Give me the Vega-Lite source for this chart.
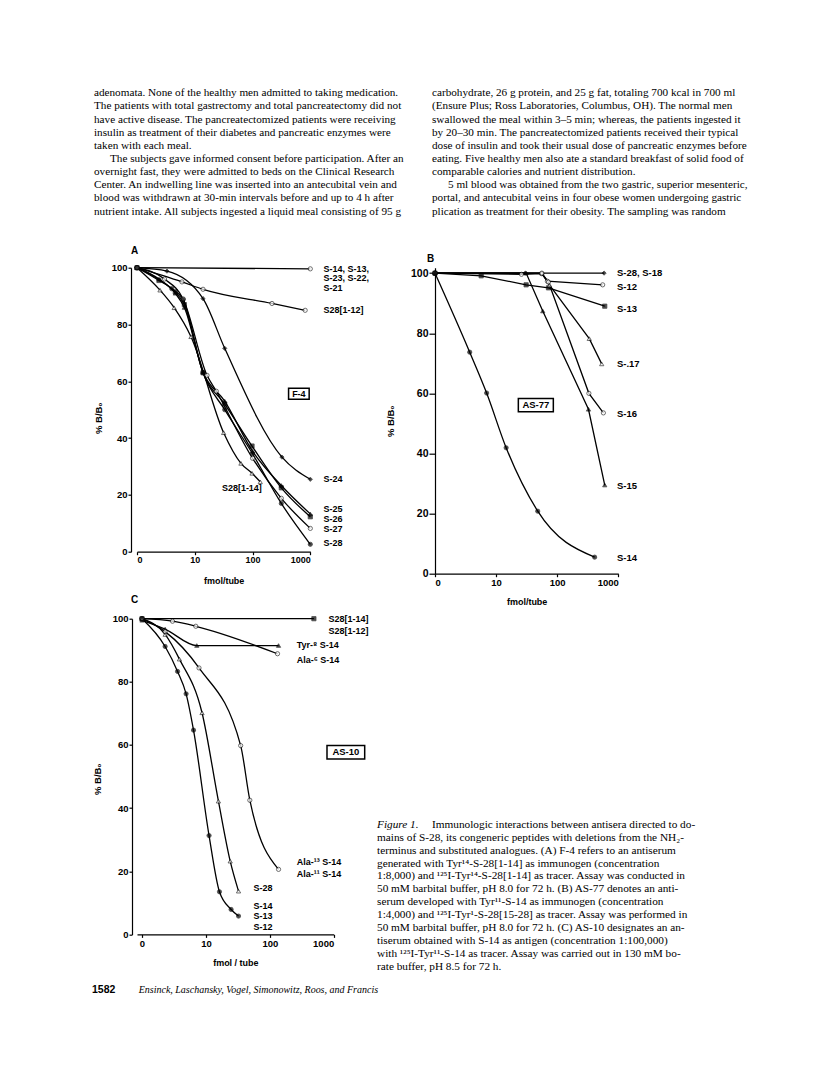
{
  "$schema": "https://vega.github.io/schema/vega-lite/v6.json",
  "padding": {"left": 92, "top": 86.7, "right": 10, "bottom": 10},
  "background": "white",
  "config": {
    "view": {"stroke": null},
    "font": "Liberation Sans",
    "axis": {"grid": false, "domainColor": "black", "tickColor": "black", "labelColor": "black", "titleColor": "black", "labelFont": "Liberation Sans", "labelFontWeight": "bold", "titleFont": "Liberation Sans", "titleFontWeight": "bold", "tickSize": 3, "labelPadding": 1, "domainWidth": 1.2, "tickWidth": 1.2},
    "title": {"font": "Liberation Sans", "fontWeight": "bold", "fontSize": 10, "anchor": "start", "frame": "group", "color": "black"},
    "text": {"color": "black"}
  },
  "datasets": {
    "bodyL": [
      {"n": 1, "p": 0, "t": "adenomata. None of the healthy men admitted to taking medication."},
      {"n": 2, "p": 0, "t": "The patients with total gastrectomy and total pancreatectomy did not"},
      {"n": 3, "p": 0, "t": "have active disease. The pancreatectomized patients were receiving"},
      {"n": 4, "p": 0, "t": "insulin as treatment of their diabetes and pancreatic enzymes were"},
      {"n": 5, "p": 0, "t": "taken with each meal."},
      {"n": 6, "p": 1, "t": "The subjects gave informed consent before participation. After an"},
      {"n": 7, "p": 0, "t": "overnight fast, they were admitted to beds on the Clinical Research"},
      {"n": 8, "p": 0, "t": "Center. An indwelling line was inserted into an antecubital vein and"},
      {"n": 9, "p": 0, "t": "blood was withdrawn at 30-min intervals before and up to 4 h after"},
      {"n": 10, "p": 0, "t": "nutrient intake. All subjects ingested a liquid meal consisting of 95 g"}
    ],
    "bodyR": [
      {"n": 1, "p": 0, "t": "carbohydrate, 26 g protein, and 25 g fat, totaling 700 kcal in 700 ml"},
      {"n": 2, "p": 0, "t": "(Ensure Plus; Ross Laboratories, Columbus, OH). The normal men"},
      {"n": 3, "p": 0, "t": "swallowed the meal within 3–5 min; whereas, the patients ingested it"},
      {"n": 4, "p": 0, "t": "by 20–30 min. The pancreatectomized patients received their typical"},
      {"n": 5, "p": 0, "t": "dose of insulin and took their usual dose of pancreatic enzymes before"},
      {"n": 6, "p": 0, "t": "eating. Five healthy men also ate a standard breakfast of solid food of"},
      {"n": 7, "p": 0, "t": "comparable calories and nutrient distribution."},
      {"n": 8, "p": 1, "t": "5 ml blood was obtained from the two gastric, superior mesenteric,"},
      {"n": 9, "p": 0, "t": "portal, and antecubital veins in four obese women undergoing gastric"},
      {"n": 10, "p": 0, "t": "plication as treatment for their obesity. The sampling was random"}
    ],
    "caption": [
      {"n": 1, "st": "i", "t": "Figure 1."},
      {"n": 1, "st": "r", "t": "Immunologic interactions between antisera directed to do-"},
      {"n": 2, "st": "n", "t": "mains of S-28, its congeneric peptides with deletions from the NH₂-"},
      {"n": 3, "st": "n", "t": "terminus and substituted analogues. (A) F-4 refers to an antiserum"},
      {"n": 4, "st": "n", "t": "generated with Tyr¹⁴-S-28[1-14] as immunogen (concentration"},
      {"n": 5, "st": "n", "t": "1:8,000) and ¹²⁵I-Tyr¹⁴-S-28[1-14] as tracer. Assay was conducted in"},
      {"n": 6, "st": "n", "t": "50 mM barbital buffer, pH 8.0 for 72 h. (B) AS-77 denotes an anti-"},
      {"n": 7, "st": "n", "t": "serum developed with Tyr¹¹-S-14 as immunogen (concentration"},
      {"n": 8, "st": "n", "t": "1:4,000) and ¹²⁵I-Tyr¹-S-28[15-28] as tracer. Assay was performed in"},
      {"n": 9, "st": "n", "t": "50 mM barbital buffer, pH 8.0 for 72 h. (C) AS-10 designates an an-"},
      {"n": 10, "st": "n", "t": "tiserum obtained with S-14 as antigen (concentration 1:100,000)"},
      {"n": 11, "st": "n", "t": "with ¹²⁵I-Tyr¹¹-S-14 as tracer. Assay was carried out in 130 mM bo-"},
      {"n": 12, "st": "n", "t": "rate buffer, pH 8.5 for 72 h."}
    ],
    "footer": [
      {"st": "num", "t": "1582"},
      {"st": "auth", "t": "Ensinck, Laschansky, Vogel, Simonowitz, Roos, and Francis"}
    ],
    "A": [
      {"s": "S-14", "x": 1, "y": 100, "m": "circle", "f": "open"},
      {"s": "S-14", "x": 1000, "y": 99.6, "m": "circle", "f": "open"},
      {"s": "S28[1-12]", "x": 1, "y": 100, "m": "circle", "f": "open"},
      {"s": "S28[1-12]", "x": 6, "y": 95, "m": "circle", "f": "open"},
      {"s": "S28[1-12]", "x": 13.9, "y": 92.4, "m": "circle", "f": "open"},
      {"s": "S28[1-12]", "x": 217, "y": 87.4, "m": "circle", "f": "open"},
      {"s": "S28[1-12]", "x": 815, "y": 85, "m": "circle", "f": "open"},
      {"s": "S-24", "x": 1, "y": 100, "m": "diamond", "f": "filled"},
      {"s": "S-24", "x": 3.3, "y": 98.8, "m": "diamond", "f": "filled"},
      {"s": "S-24", "x": 13.9, "y": 89.1, "m": "diamond", "f": "filled"},
      {"s": "S-24", "x": 33, "y": 71.6, "m": "diamond", "f": "filled"},
      {"s": "S-24", "x": 323, "y": 33.3, "m": "diamond", "f": "filled"},
      {"s": "S-24", "x": 1000, "y": 25.5, "m": "diamond", "f": "filled"},
      {"s": "S28[1-14]", "x": 1, "y": 100, "m": "triangle", "f": "open"},
      {"s": "S28[1-14]", "x": 2.5, "y": 92.1, "m": "triangle", "f": "open"},
      {"s": "S28[1-14]", "x": 4.4, "y": 85.9, "m": "triangle", "f": "open"},
      {"s": "S28[1-14]", "x": 8.6, "y": 75.7, "m": "triangle", "f": "open"},
      {"s": "S28[1-14]", "x": 31.6, "y": 41.9, "m": "triangle", "f": "open"},
      {"s": "S28[1-14]", "x": 63, "y": 31.1, "m": "triangle", "f": "open"},
      {"s": "S28[1-14]", "x": 98, "y": 27.6, "m": "triangle", "f": "open"},
      {"s": "S28[1-14]", "x": 136, "y": 24.6, "m": "triangle", "f": "open"},
      {"s": "S-25", "x": 1, "y": 100, "m": "triangle", "f": "filled"},
      {"s": "S-25", "x": 2.4, "y": 96, "m": "triangle", "f": "filled"},
      {"s": "S-25", "x": 4.6, "y": 91, "m": "triangle", "f": "filled"},
      {"s": "S-25", "x": 6.6, "y": 86, "m": "triangle", "f": "filled"},
      {"s": "S-25", "x": 13.9, "y": 63.3, "m": "triangle", "f": "filled"},
      {"s": "S-25", "x": 33, "y": 53, "m": "triangle", "f": "filled"},
      {"s": "S-25", "x": 100, "y": 35.4, "m": "triangle", "f": "filled"},
      {"s": "S-25", "x": 315, "y": 23.3, "m": "triangle", "f": "filled"},
      {"s": "S-25", "x": 1000, "y": 13.3, "m": "triangle", "f": "filled"},
      {"s": "S-26", "x": 1, "y": 100, "m": "square", "f": "filled"},
      {"s": "S-26", "x": 2.4, "y": 95.5, "m": "square", "f": "filled"},
      {"s": "S-26", "x": 4.6, "y": 91.5, "m": "square", "f": "filled"},
      {"s": "S-26", "x": 6.6, "y": 87, "m": "square", "f": "filled"},
      {"s": "S-26", "x": 13.9, "y": 63, "m": "square", "f": "filled"},
      {"s": "S-26", "x": 33, "y": 52, "m": "square", "f": "filled"},
      {"s": "S-26", "x": 98, "y": 37.2, "m": "square", "f": "filled"},
      {"s": "S-26", "x": 315, "y": 22.5, "m": "square", "f": "filled"},
      {"s": "S-26", "x": 1000, "y": 12.3, "m": "square", "f": "filled"},
      {"s": "S-27", "x": 1, "y": 100, "m": "circle", "f": "open"},
      {"s": "S-27", "x": 3, "y": 96, "m": "circle", "f": "open"},
      {"s": "S-27", "x": 6.3, "y": 89, "m": "circle", "f": "open"},
      {"s": "S-27", "x": 16.3, "y": 62.1, "m": "circle", "f": "open"},
      {"s": "S-27", "x": 23.6, "y": 56.5, "m": "circle", "f": "open"},
      {"s": "S-27", "x": 100, "y": 32.9, "m": "circle", "f": "open"},
      {"s": "S-27", "x": 315, "y": 18.8, "m": "circle", "f": "open"},
      {"s": "S-27", "x": 1000, "y": 8.2, "m": "circle", "f": "open"},
      {"s": "S-28", "x": 1, "y": 100, "m": "circle", "f": "filled"},
      {"s": "S-28", "x": 4, "y": 92.6, "m": "circle", "f": "filled"},
      {"s": "S-28", "x": 6.3, "y": 88.8, "m": "circle", "f": "filled"},
      {"s": "S-28", "x": 13.9, "y": 63, "m": "circle", "f": "filled"},
      {"s": "S-28", "x": 33, "y": 50, "m": "circle", "f": "filled"},
      {"s": "S-28", "x": 100, "y": 34.5, "m": "circle", "f": "filled"},
      {"s": "S-28", "x": 315, "y": 17, "m": "circle", "f": "filled"},
      {"s": "S-28", "x": 1000, "y": 2.6, "m": "circle", "f": "filled"}
    ],
    "labA": [
      {"x": 1700, "y": 99.6, "t": "S-14, S-13,"},
      {"x": 1700, "y": 96.3, "t": "S-23, S-22,"},
      {"x": 1700, "y": 93.0, "t": "S-21"},
      {"x": 1700, "y": 85.0, "t": "S28[1-12]"},
      {"x": 1700, "y": 25.5, "t": "S-24"},
      {"x": 1700, "y": 15.1, "t": "S-25"},
      {"x": 1700, "y": 11.6, "t": "S-26"},
      {"x": 1700, "y": 8.1, "t": "S-27"},
      {"x": 1700, "y": 2.9, "t": "S-28"}
    ],
    "labA2": [{"x": 145, "y": 22.5, "t": "S28[1-14]"}],
    "boxA": [{"x": 634, "y": 55.6, "t": "F-4"}],
    "B": [
      {"s": "S-28, S-18", "x": 1, "y": 100, "m": "diamond", "f": "filled"},
      {"s": "S-28, S-18", "x": 30, "y": 100, "m": "diamond", "f": "filled"},
      {"s": "S-28, S-18", "x": 585, "y": 100, "m": "diamond", "f": "filled"},
      {"s": "S-12", "x": 1, "y": 100, "m": "circle", "f": "open"},
      {"s": "S-12", "x": 26, "y": 99.6, "m": "circle", "f": "open"},
      {"s": "S-12", "x": 56, "y": 99.8, "m": "circle", "f": "open"},
      {"s": "S-12", "x": 69, "y": 97.3, "m": "circle", "f": "open"},
      {"s": "S-12", "x": 555, "y": 96.1, "m": "circle", "f": "open"},
      {"s": "S-13", "x": 1, "y": 100, "m": "square", "f": "filled"},
      {"s": "S-13", "x": 5.7, "y": 99.1, "m": "square", "f": "filled"},
      {"s": "S-13", "x": 31, "y": 96.1, "m": "square", "f": "filled"},
      {"s": "S-13", "x": 72, "y": 95.1, "m": "square", "f": "filled"},
      {"s": "S-13", "x": 600, "y": 89, "m": "square", "f": "filled"},
      {"s": "S-17", "x": 1, "y": 100, "m": "triangle", "f": "open"},
      {"s": "S-17", "x": 56, "y": 100, "m": "triangle", "f": "open"},
      {"s": "S-17", "x": 75, "y": 96, "m": "triangle", "f": "open"},
      {"s": "S-17", "x": 335, "y": 78.2, "m": "triangle", "f": "open"},
      {"s": "S-17", "x": 535, "y": 69.8, "m": "triangle", "f": "open"},
      {"s": "S-16", "x": 1, "y": 100, "m": "circle", "f": "open"},
      {"s": "S-16", "x": 56, "y": 100, "m": "circle", "f": "open"},
      {"s": "S-16", "x": 72, "y": 97, "m": "circle", "f": "open"},
      {"s": "S-16", "x": 330, "y": 60, "m": "circle", "f": "open"},
      {"s": "S-16", "x": 570, "y": 53.5, "m": "circle", "f": "open"},
      {"s": "S-15", "x": 1, "y": 100, "m": "triangle", "f": "filled"},
      {"s": "S-15", "x": 31, "y": 100, "m": "triangle", "f": "filled"},
      {"s": "S-15", "x": 58, "y": 87.4, "m": "triangle", "f": "filled"},
      {"s": "S-15", "x": 325, "y": 54.7, "m": "triangle", "f": "filled"},
      {"s": "S-15", "x": 600, "y": 29.5, "m": "triangle", "f": "filled"},
      {"s": "S-14", "x": 1, "y": 100, "m": "circle", "f": "filled"},
      {"s": "S-14", "x": 3.7, "y": 73.7, "m": "circle", "f": "filled"},
      {"s": "S-14", "x": 7, "y": 60.1, "m": "circle", "f": "filled"},
      {"s": "S-14", "x": 14.6, "y": 41.9, "m": "circle", "f": "filled"},
      {"s": "S-14", "x": 48, "y": 20.8, "m": "circle", "f": "filled"},
      {"s": "S-14", "x": 410, "y": 5.5, "m": "circle", "f": "filled"}
    ],
    "labB": [
      {"x": 950, "y": 100, "t": "S-28, S-18"},
      {"x": 950, "y": 95.3, "t": "S-12"},
      {"x": 950, "y": 88.1, "t": "S-13"},
      {"x": 950, "y": 69.6, "t": "S-.17"},
      {"x": 950, "y": 53.2, "t": "S-16"},
      {"x": 950, "y": 29.2, "t": "S-15"},
      {"x": 950, "y": 5.3, "t": "S-14"}
    ],
    "boxB": [{"x": 44.7, "y": 56.1, "t": "AS-77"}],
    "C": [
      {"s": "S28", "x": 1, "y": 100, "m": "square", "f": "filled"},
      {"s": "S28", "x": 490, "y": 100, "m": "square", "f": "filled"},
      {"s": "Tyr", "x": 1, "y": 99.5, "m": "triangle", "f": "filled"},
      {"s": "Tyr", "x": 2.3, "y": 96.7, "m": "triangle", "f": "filled"},
      {"s": "Tyr", "x": 7.2, "y": 91.5, "m": "triangle", "f": "filled"},
      {"s": "Tyr", "x": 137, "y": 91.5, "m": "triangle", "f": "filled"},
      {"s": "Ala6", "x": 1, "y": 100, "m": "circle", "f": "open"},
      {"s": "Ala6", "x": 3.0, "y": 99.2, "m": "circle", "f": "open"},
      {"s": "Ala6", "x": 6.95, "y": 97.6, "m": "circle", "f": "open"},
      {"s": "Ala6", "x": 132, "y": 88.9, "m": "circle", "f": "open"},
      {"s": "Ala13", "x": 1, "y": 100, "m": "circle", "f": "open"},
      {"s": "Ala13", "x": 2.3, "y": 95.9, "m": "circle", "f": "open"},
      {"s": "Ala13", "x": 7.8, "y": 84.4, "m": "circle", "f": "open"},
      {"s": "Ala13", "x": 35, "y": 59.8, "m": "circle", "f": "open"},
      {"s": "Ala13", "x": 48.7, "y": 42.5, "m": "circle", "f": "open"},
      {"s": "Ala13", "x": 137, "y": 20.6, "m": "circle", "f": "open"},
      {"s": "S-28", "x": 1, "y": 100, "m": "triangle", "f": "open"},
      {"s": "S-28", "x": 2.3, "y": 95, "m": "triangle", "f": "open"},
      {"s": "S-28", "x": 3.85, "y": 87.2, "m": "triangle", "f": "open"},
      {"s": "S-28", "x": 8.7, "y": 70.2, "m": "triangle", "f": "open"},
      {"s": "S-28", "x": 15.7, "y": 42.2, "m": "triangle", "f": "open"},
      {"s": "S-28", "x": 24, "y": 23.2, "m": "triangle", "f": "open"},
      {"s": "S-28", "x": 32.4, "y": 13.7, "m": "triangle", "f": "open"},
      {"s": "S-14", "x": 1, "y": 100, "m": "circle", "f": "filled"},
      {"s": "S-14", "x": 2.3, "y": 91.2, "m": "circle", "f": "filled"},
      {"s": "S-14", "x": 3.6, "y": 83.3, "m": "circle", "f": "filled"},
      {"s": "S-14", "x": 4.9, "y": 76.2, "m": "circle", "f": "filled"},
      {"s": "S-14", "x": 6.4, "y": 64.7, "m": "circle", "f": "filled"},
      {"s": "S-14", "x": 11.2, "y": 31.3, "m": "circle", "f": "filled"},
      {"s": "S-14", "x": 16.3, "y": 13.5, "m": "circle", "f": "filled"},
      {"s": "S-14", "x": 24.8, "y": 7.9, "m": "circle", "f": "filled"},
      {"s": "S-14", "x": 32.4, "y": 5.8, "m": "circle", "f": "filled"}
    ],
    "labC": [
      {"x": 830, "y": 99.9, "t": "S28[1-14]"},
      {"x": 830, "y": 96.1, "t": "S28[1-12]"},
      {"x": 264, "y": 91.6, "t": "Tyr-⁸ S-14"},
      {"x": 264, "y": 86.9, "t": "Ala-⁶ S-14"},
      {"x": 264, "y": 22.8, "t": "Ala-¹³ S-14"},
      {"x": 264, "y": 19.0, "t": "Ala-¹¹ S-14"},
      {"x": 55.4, "y": 14.6, "t": "S-28"},
      {"x": 55.4, "y": 9.0, "t": "S-14"},
      {"x": 55.4, "y": 5.8, "t": "S-13"},
      {"x": 55.4, "y": 2.3, "t": "S-12"}
    ],
    "boxC": [{"x": 1549, "y": 57.7, "t": "AS-10"}]
  },
  "spacing": 10,
  "vconcat": [
    {
      "bounds": "flush",
      "spacing": 25,
      "hconcat": [
        {
          "width": 313, "height": 148.6,
          "data": {"name": "bodyL"},
          "encoding": {
            "x": {"datum": 0, "type": "quantitative", "scale": {"domain": [0.1374, 1.1374]}, "axis": null},
            "y": {"field": "n", "type": "quantitative", "scale": {"domain": [0.5, 11.8], "reverse": true}, "axis": null},
            "text": {"field": "t"}
          },
          "layer": [
            {"transform": [{"filter": "datum.p == 0"}], "mark": {"type": "text", "align": "left", "baseline": "middle", "font": "Liberation Serif", "fontSize": 11.2}},
            {"transform": [{"filter": "datum.p == 1"}], "mark": {"type": "text", "align": "left", "baseline": "middle", "font": "Liberation Serif", "fontSize": 11.2, "dx": 16}}
          ]
        },
        {
          "width": 315, "height": 148.6,
          "data": {"name": "bodyR"},
          "encoding": {
            "x": {"datum": 0, "type": "quantitative", "scale": {"domain": [0.1365, 1.1365]}, "axis": null},
            "y": {"field": "n", "type": "quantitative", "scale": {"domain": [0.5, 11.8], "reverse": true}, "axis": null},
            "text": {"field": "t"}
          },
          "layer": [
            {"transform": [{"filter": "datum.p == 0"}], "mark": {"type": "text", "align": "left", "baseline": "middle", "font": "Liberation Serif", "fontSize": 11.2}},
            {"transform": [{"filter": "datum.p == 1"}], "mark": {"type": "text", "align": "left", "baseline": "middle", "font": "Liberation Serif", "fontSize": 11.2, "dx": 16}}
          ]
        }
      ]
    },
    {
      "spacing": 6,
      "hconcat": [
        {
          "bounds": "flush",
          "spacing": 67,
          "vconcat": [
            {
              "width": 173.3, "height": 284,
              "title": {"text": "A", "dx": -6, "offset": 6.2},
              "data": {"name": "A"},
              "encoding": {
                "x": {"field": "x", "type": "quantitative", "scale": {"type": "log", "domain": [1, 1000], "nice": false}, "axis": {"values": [1, 10, 100, 1000], "labelExpr": "datum.value < 2 ? '0' : format(datum.value, 'd')", "title": "fmol/tube", "titlePadding": 12, "labelFontSize": 9, "titleFontSize": 9}},
                "y": {"field": "y", "type": "quantitative", "scale": {"domain": [0, 100], "nice": false}, "axis": {"values": [0, 20, 40, 60, 80, 100], "title": "% B/B₀", "offset": 6, "titleX": -28, "titleY": 150, "labelFontSize": 9.5, "titleFontSize": 9.5}}
              },
              "layer": [
                {"mark": {"type": "line", "interpolate": "monotone", "color": "black", "strokeWidth": 1.3}, "encoding": {"detail": {"field": "s"}}},
                {"mark": {"type": "point", "filled": true, "stroke": "black", "strokeWidth": 0.8, "size": 18},
                 "encoding": {
                   "shape": {"field": "m", "type": "nominal", "scale": {"domain": ["circle", "triangle", "square", "diamond"], "range": ["circle", "triangle-up", "square", "diamond"]}, "legend": null},
                   "fill": {"field": "f", "type": "nominal", "scale": {"domain": ["filled", "open"], "range": ["black", "white"]}, "legend": null}
                 }},
                {"data": {"name": "labA"}, "mark": {"type": "text", "align": "left", "baseline": "middle", "fontWeight": "bold", "fontSize": 9}, "encoding": {"text": {"field": "t"}}},
                {"data": {"name": "labA2"}, "mark": {"type": "text", "align": "right", "baseline": "middle", "fontWeight": "bold", "fontSize": 9}, "encoding": {"text": {"field": "t"}}},
                {"data": {"name": "boxA"}, "mark": {"type": "point", "shape": "M-1,-0.53L1,-0.53L1,0.53L-1,0.53Z", "size": 424, "filled": false, "stroke": "black", "strokeWidth": 1.5, "opacity": 1}},
                {"data": {"name": "boxA"}, "mark": {"type": "text", "align": "center", "baseline": "middle", "fontWeight": "bold", "fontSize": 9}, "encoding": {"text": {"field": "t"}}}
              ]
            },
            {
              "width": 196.7, "height": 315.7,
              "title": {"text": "C", "dx": -6, "offset": 8.2},
              "data": {"name": "C"},
              "encoding": {
                "x": {"field": "x", "type": "quantitative", "scale": {"type": "log", "domain": [0.8349, 1000], "nice": false}, "axis": {"values": [1, 10, 100, 1000], "labelExpr": "datum.value < 2 ? '0' : format(datum.value, 'd')", "title": "fmol / tube", "titlePadding": 11, "labelFontSize": 9.5, "titleFontSize": 9}},
                "y": {"field": "y", "type": "quantitative", "scale": {"domain": [0, 100], "nice": false}, "axis": {"values": [0, 20, 40, 60, 80, 100], "title": "% B/B₀", "offset": 5, "titleX": -29.5, "titleY": 160, "labelFontSize": 9.5, "titleFontSize": 9.5}}
              },
              "layer": [
                {"mark": {"type": "line", "interpolate": "monotone", "color": "black", "strokeWidth": 1.3}, "encoding": {"detail": {"field": "s"}}},
                {"mark": {"type": "point", "filled": true, "stroke": "black", "strokeWidth": 0.8, "size": 18},
                 "encoding": {
                   "shape": {"field": "m", "type": "nominal", "scale": {"domain": ["circle", "triangle", "square", "diamond"], "range": ["circle", "triangle-up", "square", "diamond"]}, "legend": null},
                   "fill": {"field": "f", "type": "nominal", "scale": {"domain": ["filled", "open"], "range": ["black", "white"]}, "legend": null}
                 }},
                {"data": {"name": "labC"}, "mark": {"type": "text", "align": "left", "baseline": "middle", "fontWeight": "bold", "fontSize": 9}, "encoding": {"text": {"field": "t"}}},
                {"data": {"name": "boxC"}, "mark": {"type": "point", "shape": "M-1,-0.353L1,-0.353L1,0.353L-1,0.353Z", "size": 1421, "filled": false, "stroke": "black", "strokeWidth": 1.5, "opacity": 1}},
                {"data": {"name": "boxC"}, "mark": {"type": "text", "align": "center", "baseline": "middle", "fontWeight": "bold", "fontSize": 9.5}, "encoding": {"text": {"field": "t"}}}
              ]
            }
          ]
        },
        {
          "bounds": "flush",
          "spacing": 244.7,
          "vconcat": [
            {
              "width": 183.3, "height": 306,
              "title": {"text": "B", "dx": -8, "offset": 3.9},
              "data": {"name": "B"},
              "encoding": {
                "x": {"field": "x", "type": "quantitative", "scale": {"type": "log", "domain": [1, 1000], "nice": false}, "axis": {"values": [1, 10, 100, 1000], "labelExpr": "datum.value < 2 ? '0' : format(datum.value, 'd')", "title": "fmol/tube", "titlePadding": 10, "labelFontSize": 9.5, "titleFontSize": 9}},
                "y": {"field": "y", "type": "quantitative", "scale": {"domain": [0, 101.8], "nice": false}, "axis": {"values": [0, 20, 40, 60, 80, 100], "title": "% B/B₀", "offset": 0, "tickSize": 6, "titleX": -40, "titleY": 153, "labelFontSize": 10.5, "titleFontSize": 9.5}}
              },
              "layer": [
                {"transform": [{"filter": "datum.s != 'S-14'"}], "mark": {"type": "line", "interpolate": "linear", "color": "black", "strokeWidth": 1.3}, "encoding": {"detail": {"field": "s"}}},
                {"transform": [{"filter": "datum.s == 'S-14'"}], "mark": {"type": "line", "interpolate": "monotone", "color": "black", "strokeWidth": 1.3}, "encoding": {"detail": {"field": "s"}}},
                {"mark": {"type": "point", "filled": true, "stroke": "black", "strokeWidth": 0.8, "size": 18},
                 "encoding": {
                   "shape": {"field": "m", "type": "nominal", "scale": {"domain": ["circle", "triangle", "square", "diamond"], "range": ["circle", "triangle-up", "square", "diamond"]}, "legend": null},
                   "fill": {"field": "f", "type": "nominal", "scale": {"domain": ["filled", "open"], "range": ["black", "white"]}, "legend": null}
                 }},
                {"data": {"name": "labB"}, "mark": {"type": "text", "align": "left", "baseline": "middle", "fontWeight": "bold", "fontSize": 9.5}, "encoding": {"text": {"field": "t"}}},
                {"data": {"name": "boxB"}, "mark": {"type": "point", "shape": "M-1,-0.38L1,-0.38L1,0.38L-1,0.38Z", "size": 1225, "filled": false, "stroke": "black", "strokeWidth": 1.5, "opacity": 1}},
                {"data": {"name": "boxB"}, "mark": {"type": "text", "align": "center", "baseline": "middle", "fontWeight": "bold", "fontSize": 9.5}, "encoding": {"text": {"field": "t"}}}
              ]
            },
            {
              "width": 318, "height": 154.8,
              "data": {"name": "caption"},
              "encoding": {
                "x": {"datum": 0, "type": "quantitative", "scale": {"domain": [0.1824, 1.1824]}, "axis": null},
                "y": {"field": "n", "type": "quantitative", "scale": {"domain": [0.5, 12.5], "reverse": true}, "axis": null},
                "text": {"field": "t"}
              },
              "layer": [
                {"transform": [{"filter": "datum.st == 'n'"}], "mark": {"type": "text", "align": "left", "baseline": "middle", "font": "Liberation Serif", "fontSize": 11.3}},
                {"transform": [{"filter": "datum.st == 'i'"}], "mark": {"type": "text", "align": "left", "baseline": "middle", "font": "Liberation Serif", "fontStyle": "italic", "fontSize": 11.3}},
                {"transform": [{"filter": "datum.st == 'r'"}], "mark": {"type": "text", "align": "left", "baseline": "middle", "font": "Liberation Serif", "fontSize": 11.3, "dx": 55}}
              ]
            }
          ]
        }
      ]
    },
    {
      "width": 300, "height": 13,
      "data": {"name": "footer"},
      "encoding": {
        "x": {"datum": 0, "type": "quantitative", "scale": {"domain": [0, 1]}, "axis": null},
        "y": {"datum": 0.5, "type": "quantitative", "scale": {"domain": [0, 1]}, "axis": null},
        "text": {"field": "t"}
      },
      "layer": [
        {"transform": [{"filter": "datum.st == 'num'"}], "mark": {"type": "text", "align": "left", "baseline": "middle", "font": "Liberation Sans", "fontWeight": "bold", "fontSize": 10.5, "dx": -45}},
        {"transform": [{"filter": "datum.st == 'auth'"}], "mark": {"type": "text", "align": "left", "baseline": "middle", "font": "Liberation Serif", "fontStyle": "italic", "fontSize": 10, "dx": 1.7}}
      ]
    }
  ]
}
